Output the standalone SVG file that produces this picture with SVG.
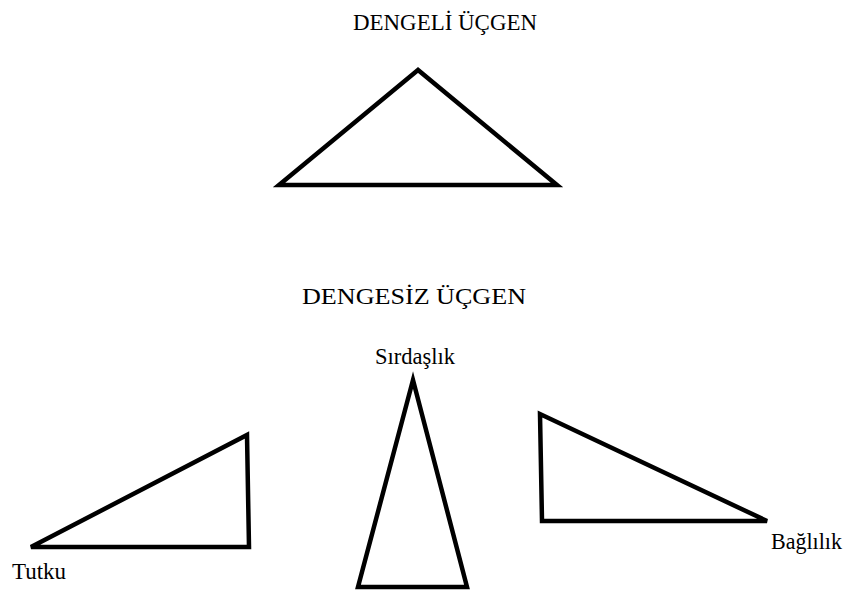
<svg xmlns="http://www.w3.org/2000/svg" width="847" height="595" viewBox="0 0 847 595">
<style>
text{font-family:"Liberation Serif","Times New Roman",serif;font-size:24px;fill:#000}
.tri{fill:#fff;stroke:#000;stroke-width:4.5;stroke-linejoin:miter}
</style>
<rect width="847" height="595" fill="#fff"/>
<g id="title-balanced"><text x="353" y="30" textLength="184" lengthAdjust="spacingAndGlyphs">DENGELİ ÜÇGEN</text></g>
<g id="balanced-triangle"><polygon class="tri" points="418,70 279,185 557,185"/></g>
<g id="title-unbalanced"><text x="302" y="304" textLength="224" lengthAdjust="spacingAndGlyphs">DENGESİZ ÜÇGEN</text></g>
<g id="tutku"><polygon class="tri" points="31,547 247,435 249,547"/><text x="12" y="579" textLength="54" lengthAdjust="spacingAndGlyphs">Tutku</text></g>
<g id="sirdaslik"><polygon class="tri" points="413,380 358,587 467,587"/><text x="375" y="364" textLength="80" lengthAdjust="spacingAndGlyphs">Sırdaşlık</text></g>
<g id="baglilik"><polygon class="tri" points="540,414 542,521 767,521"/><text x="771" y="549" textLength="71" lengthAdjust="spacingAndGlyphs">Bağlılık</text></g>
<g id="connectors"></g>
</svg>
